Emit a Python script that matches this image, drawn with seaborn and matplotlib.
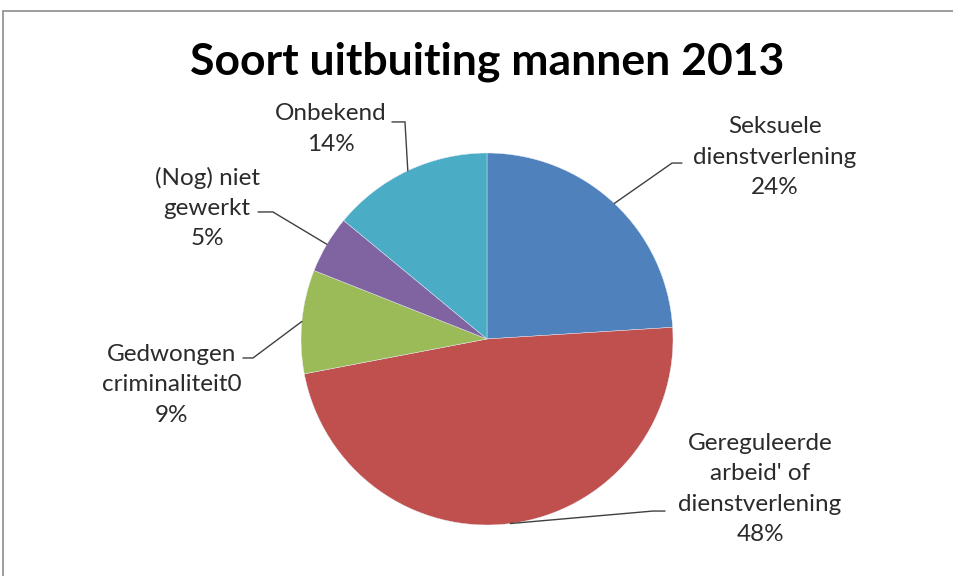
import matplotlib
matplotlib.use("Agg")
import matplotlib.pyplot as plt
import seaborn as sns
import numpy as np
from matplotlib.patches import Rectangle

categories = ["Seksuele\ndienstverlening", "Gereguleerde\narbeid' of\ndienstverlening",
              "Gedwongen\ncriminaliteit0", "(Nog) niet\ngewerkt", "Onbekend"]
values = [24, 48, 9, 5, 14]
pct_labels = ["24%", "48%", "9%", "5%", "14%"]
colors = ["#4F81BD", "#C0504D", "#9BBB59", "#8064A2", "#4BACC6"]
title = "Soort uitbuiting mannen 2013"

sns.set_theme(style="white")
plt.rcParams['font.family'] = ['Lato', 'DejaVu Sans']

W, H = 954, 576
fig = plt.figure(figsize=(W / 100, H / 100), dpi=100)
fig.patch.set_facecolor("white")

# frame
fig.patches.append(Rectangle((3 / W, -0.1), 1.2, 1 - 11 / H + 0.1, transform=fig.transFigure,
                             fill=False, edgecolor="#8c8c8c", linewidth=1.2))

cx, cy, R = 487, 339, 186
ax = fig.add_axes([0, 0, 1, 1])

wedges, _ = ax.pie(values, colors=colors, startangle=90, counterclock=False, radius=1,
                   wedgeprops=dict(linewidth=0.3, edgecolor="#e8eef6"))
ax.set_xlim(-cx / R, (W - cx) / R)
ax.set_ylim(-(H - cy) / R, cy / R)
ax.axis("off")

# label layout: (elbow, line end, text centre) in radius units
layout = [
    ((0.995, 0.946), (1.048, 0.946), (1.548, 0.978)),
    ((0.892, -0.925), (0.957, -0.925), (1.468, -0.806)),
    ((-1.258, -0.102), (-1.312, -0.102), (-1.694, -0.247)),
    ((-1.151, 0.683), (-1.231, 0.683), (-1.505, 0.704)),
    ((-0.441, 1.167), (-0.511, 1.167), (-0.839, 1.129)),
]

for w, cat, pct, (elb, end, tc) in zip(wedges, categories, pct_labels, layout):
    mid = np.deg2rad((w.theta1 + w.theta2) / 2)
    sx, sy = np.cos(mid), np.sin(mid)
    ax.plot([sx, elb[0], end[0]], [sy, elb[1], end[1]], color="#404040", lw=1.0,
            solid_joinstyle="miter", clip_on=False)
    ax.text(tc[0], tc[1], cat + "\n" + pct, ha="center", va="center", fontsize=17.5,
            color="#2b2b2b", linespacing=1.55, clip_on=False)

fig.text(487 / W, 1 - 62 / H, title, ha="center", va="center", fontsize=32,
         fontweight="bold", color="black")

fig.savefig("out.png", dpi=100, facecolor="white")
